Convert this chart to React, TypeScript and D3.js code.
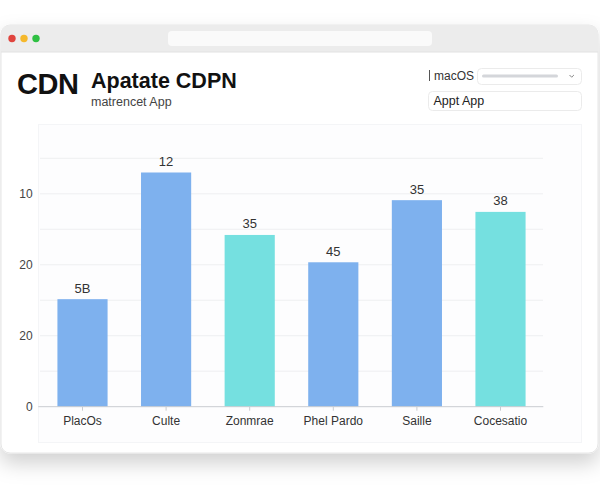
import { useEffect, useRef } from 'react';
import * as d3 from 'd3';

// chart data
const categories = ['PlacOs', 'Culte', 'Zonmrae', 'Phel Pardo', 'Saille', 'Cocesatio'];
const values = [30.3, 66.0, 48.4, 40.7, 58.2, 54.9];
const valueLabels = ['5B', '12', '35', '45', '35', '38'];
const groups = ['a', 'a', 'b', 'a', 'a', 'b'];
const yTickValues = [0, 20, 40, 60];
const yTickLabels = ['0', '20', '20', '10'];

const FONT = '"Liberation Sans", Arial, sans-serif';

export default function App() {
  const svgRef = useRef<SVGSVGElement>(null);
  const width = 600;
  const height = 500;

  useEffect(() => {
    if (!svgRef.current) return;
    const svg = d3.select(svgRef.current);
    svg.selectAll('*').remove();
    svg.style('font-family', FONT);

    const defs = svg.append('defs');
    const filter = defs.append('filter').attr('id', 'winShadow')
      .attr('x', '-10%').attr('y', '-10%').attr('width', '120%').attr('height', '135%');
    filter.append('feDropShadow')
      .attr('dx', 0).attr('dy', 10).attr('stdDeviation', 10)
      .attr('flood-color', '#000').attr('flood-opacity', 0.18);
    const clip = defs.append('clipPath').attr('id', 'winClip');
    clip.append('rect').attr('x', 1).attr('y', 25).attr('width', 597).attr('height', 428).attr('rx', 9);

    // browser window
    svg.append('rect').attr('width', width).attr('height', height).attr('fill', '#ffffff');
    svg.append('rect')
      .attr('x', 1).attr('y', 25).attr('width', 597).attr('height', 428).attr('rx', 9)
      .attr('fill', '#ffffff').attr('stroke', '#e6e6e6').attr('filter', 'url(#winShadow)');
    const chrome = svg.append('g').attr('clip-path', 'url(#winClip)');
    chrome.append('rect').attr('x', 1).attr('y', 25).attr('width', 597).attr('height', 27).attr('fill', '#ececec');
    chrome.append('line').attr('x1', 1).attr('x2', 598).attr('y1', 52).attr('y2', 52).attr('stroke', '#e2e2e2');
    [['#e0443e', 12], ['#f5b82c', 24], ['#2fc043', 36]].forEach(([c, cx]) => {
      svg.append('circle').attr('cx', cx as number).attr('cy', 38.5).attr('r', 3.7).attr('fill', c as string);
    });
    svg.append('rect').attr('x', 168).attr('y', 31).attr('width', 264).attr('height', 15).attr('rx', 4).attr('fill', '#fafafa');

    // header
    svg.append('text').attr('x', 17).attr('y', 93.5).text('CDN')
      .style('font-size', '29px').style('font-weight', '700').style('fill', '#111').style('letter-spacing', '-0.5px');
    svg.append('text').attr('x', 91).attr('y', 87.5).text('Apatate CDPN')
      .style('font-size', '21.5px').style('font-weight', '700').style('fill', '#111');
    svg.append('text').attr('x', 91).attr('y', 106).text('matrencet App')
      .style('font-size', '12.5px').style('fill', '#444');

    // controls on the right
    svg.append('line').attr('x1', 429.5).attr('x2', 429.5).attr('y1', 70).attr('y2', 81).attr('stroke', '#555').attr('stroke-width', 1);
    svg.append('text').attr('x', 434).attr('y', 79.5).text('macOS').style('font-size', '12px').style('fill', '#333');
    svg.append('rect').attr('x', 477.5).attr('y', 68.5).attr('width', 104).attr('height', 16).attr('rx', 4)
      .attr('fill', '#fff').attr('stroke', '#ebebeb');
    svg.append('rect').attr('x', 482).attr('y', 74.5).attr('width', 76).attr('height', 3).attr('rx', 1.5).attr('fill', '#d4d6da');
    svg.append('path').attr('d', 'M569.5,75 l2.2,2.2 l2.2,-2.2').attr('fill', 'none').attr('stroke', '#777').attr('stroke-width', 0.9);
    svg.append('rect').attr('x', 428.5).attr('y', 91.5).attr('width', 153).attr('height', 19).attr('rx', 4)
      .attr('fill', '#fff').attr('stroke', '#ebebeb');
    svg.append('text').attr('x', 433.5).attr('y', 105).text('Appt App').style('font-size', '12.5px').style('fill', '#222');

    // chart panel
    svg.append('rect').attr('x', 38.5).attr('y', 124.5).attr('width', 543).attr('height', 318)
      .attr('fill', '#fdfdfe').attr('stroke', '#f4f5f7');

    const x = d3.scaleBand()
      .domain(categories)
      .range([40.7, 542.3])
      .paddingInner(0.4)
      .paddingOuter(0.2);

    const y = d3.scaleLinear().domain([0, 70]).range([406.7, 158.3]);

    const color = d3.scaleOrdinal<string>().domain(['a', 'b']).range(['#7eb1ee', '#75e0e0']);

    const g = svg.append('g');

    // gridlines
    g.selectAll('line.grid')
      .data(y.ticks(7).filter(d => d > 0))
      .enter()
      .append('line')
      .attr('class', 'grid')
      .attr('x1', 40).attr('x2', 543)
      .attr('y1', d => y(d)).attr('y2', d => y(d))
      .attr('stroke', '#eeeff1').attr('stroke-width', 1);

    // y axis labels
    const yAxis = g.append('g')
      .attr('transform', 'translate(40.7,0)')
      .call(d3.axisLeft(y).tickValues(yTickValues).tickSize(0).tickPadding(8)
        .tickFormat((_, i) => yTickLabels[i]));
    yAxis.select('.domain').remove();
    yAxis.selectAll('text').style('font-size', '12px').style('fill', '#444').style('font-family', FONT);

    // bars
    g.selectAll('rect.bar')
      .data(categories)
      .enter()
      .append('rect')
      .attr('class', 'bar')
      .attr('x', d => x(d)!)
      .attr('y', (_, i) => y(values[i]))
      .attr('width', x.bandwidth())
      .attr('height', (_, i) => y(0) - y(values[i]))
      .attr('fill', (_, i) => color(groups[i]));

    // value labels
    g.selectAll('text.value')
      .data(categories)
      .enter()
      .append('text')
      .attr('class', 'value')
      .attr('x', d => x(d)! + x.bandwidth() / 2)
      .attr('y', (_, i) => y(values[i]) - 6.5)
      .attr('text-anchor', 'middle')
      .text((_, i) => valueLabels[i])
      .style('font-size', '13px')
      .style('fill', '#333');

    // x axis
    const xAxis = g.append('g')
      .attr('transform', `translate(0,${y(0)})`)
      .call(d3.axisBottom(x).tickSize(4).tickSizeOuter(0).tickPadding(6));
    xAxis.select('.domain').remove();
    xAxis.selectAll('.tick line').attr('stroke', '#c9ccd1');
    xAxis.selectAll('text').style('font-size', '12px').style('fill', '#333').style('font-family', FONT);
    g.append('line').attr('x1', 38.3).attr('x2', 543.3).attr('y1', y(0)).attr('y2', y(0))
      .attr('stroke', '#c9ccd1').attr('stroke-width', 1);
  }, []);

  return (
    <div style={{ position: 'absolute', left: 0, top: 0 }}>
      <svg ref={svgRef} width={width} height={height} style={{ display: 'block' }} />
    </div>
  );
}
